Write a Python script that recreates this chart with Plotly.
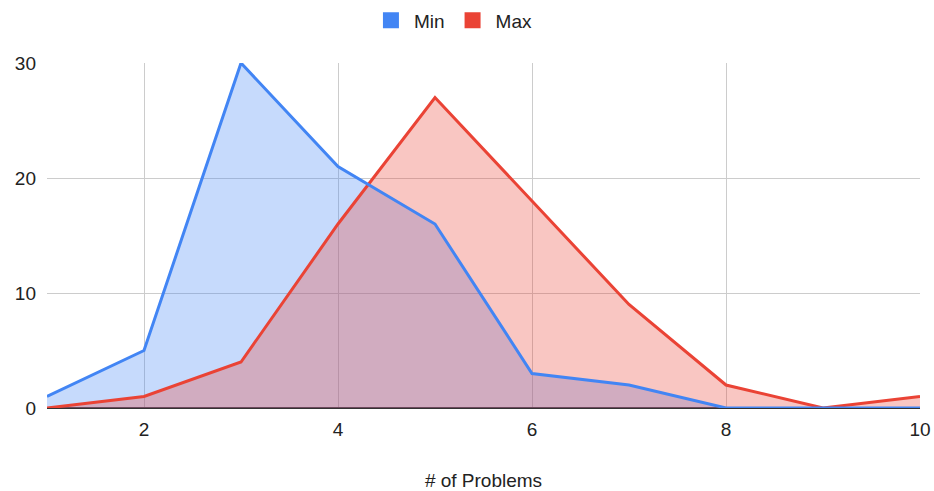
import plotly.graph_objects as go

problems = [1, 2, 3, 4, 5, 6, 7, 8, 9, 10]
min_vals = [1, 5, 30, 21, 16, 3, 2, 0, 0, 0]
max_vals = [0, 1, 4, 16, 27, 18, 9, 2, 0, 1]

blue = "#4285F4"
red = "#EA4335"

fig = go.Figure()
# fills
fig.add_trace(go.Scatter(x=problems, y=min_vals, mode="none", fill="tozeroy",
                         fillcolor="rgba(66,133,244,0.3)", showlegend=False, hoverinfo="skip"))
fig.add_trace(go.Scatter(x=problems, y=max_vals, mode="none", fill="tozeroy",
                         fillcolor="rgba(234,67,53,0.3)", showlegend=False, hoverinfo="skip"))
# lines
fig.add_trace(go.Scatter(x=problems, y=max_vals, mode="lines", name="Max",
                         line=dict(color=red, width=3), showlegend=False))
fig.add_trace(go.Scatter(x=problems, y=min_vals, mode="lines", name="Min",
                         line=dict(color=blue, width=3), showlegend=False))
# legend entries
fig.add_trace(go.Scatter(x=[None], y=[None], mode="markers", name="Min",
                         marker=dict(symbol="square", size=18, color=blue)))
fig.add_trace(go.Scatter(x=[None], y=[None], mode="markers", name="Max",
                         marker=dict(symbol="square", size=18, color=red)))

fig.update_layout(
    width=934, height=491,
    margin=dict(l=47, r=14, t=63, b=83),
    plot_bgcolor="white", paper_bgcolor="white",
    font=dict(family="Liberation Sans, Arial, sans-serif", size=19, color="#222222"),
    legend=dict(orientation="h", x=0.465, xanchor="center", y=0.997, yanchor="top",
                yref="container", font=dict(size=19), itemwidth=36, tracegroupgap=0),
    xaxis=dict(range=[1, 10], tickvals=[2, 4, 6, 8, 10], showgrid=True,
               gridcolor="#cccccc", gridwidth=1, zeroline=False, automargin=False,
               title=dict(text="# of Problems", standoff=38, font=dict(size=19)),
               ticks="", showline=False, tickfont=dict(size=19), ticklabelstandoff=8),
    yaxis=dict(range=[0, 30], tickvals=[0, 10, 20, 30], showgrid=True, automargin=False,
               gridcolor="#cccccc", gridwidth=1, zeroline=True, zerolinecolor="#333333",
               zerolinewidth=1.5, ticks="", ticklabelstandoff=10, tickfont=dict(size=19)),
)

fig.write_html("out.html")
